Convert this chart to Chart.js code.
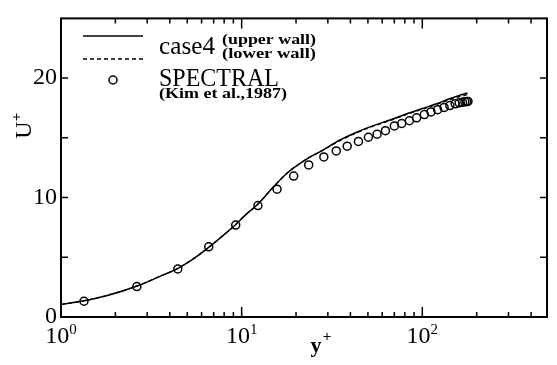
<!DOCTYPE html>
<html>
<head>
<meta charset="utf-8">
<script src="https://cdn.jsdelivr.net/npm/chart.js@4.4.1/dist/chart.umd.min.js"></script>
<style>
    html, body { margin: 0; padding: 0; background: #fff; }
    #wrap { width: 557px; height: 365px; position: relative; }
</style>
</head>
<body>
<div id="wrap"><canvas id="uplusChart"></canvas></div>
<script>
// case4 profiles (upper / lower wall)
var caseYPlus = [1, 1.34, 1.8, 2.64, 3.5, 4.41, 5.5, 6.59, 8, 9.28, 10.5, 12.2, 14.9, 18, 22.8, 28, 34.8, 43, 53, 65, 80, 100, 120, 140, 160, 178];
var caseUpper = [1.05, 1.36, 1.8, 2.6, 3.38, 4.05, 4.95, 5.85, 6.9, 7.75, 8.55, 9.4, 10.85, 12.1, 13.2, 13.95, 14.8, 15.45, 16.0, 16.45, 16.95, 17.45, 17.85, 18.25, 18.55, 18.75];
var caseLower = [1.05, 1.36, 1.8, 2.6, 3.38, 4.05, 4.95, 5.85, 6.9, 7.75, 8.55, 9.4, 10.85, 12.1, 13.2, 13.95, 14.75, 15.4, 15.95, 16.4, 16.9, 17.4, 17.8, 18.15, 18.45, 18.62];

// SPECTRAL (Kim et al., 1987)
var spectralYPlus = [1.34, 2.63, 4.43, 6.57, 9.27, 12.3, 15.7, 19.4, 23.5, 28.5, 33.4, 38.4, 44.3, 50.3, 56.2, 62.5, 70, 76.9, 84.8, 93, 102.6, 111.7, 121.5, 132, 142, 152, 160, 167, 172, 176, 179];
var spectralU = [1.32, 2.55, 4.02, 5.88, 7.7, 9.33, 10.7, 11.8, 12.73, 13.4, 13.9, 14.3, 14.7, 15.05, 15.3, 15.6, 16.0, 16.2, 16.43, 16.68, 16.95, 17.17, 17.36, 17.55, 17.7, 17.85, 17.93, 17.98, 18.02, 18.04, 18.05];

// axis ticks
var xDecades = [1, 10, 100];
var xDecadeExp = ['0', '1', '2'];
var yLabelled = [0, 10, 20];

var serif = "'Liberation Serif', 'DejaVu Serif', serif";

function pts(xs, ys) {
    return xs.map(function (x, i) { return {x: x, y: ys[i]}; });
}

// draw text squeezed/stretched to a given width (the scan's legend text is wide)
function wideText(ctx, txt, x, y, w) {
    var m = ctx.measureText(txt).width;
    ctx.save();
    ctx.translate(x, y);
    ctx.scale(w / m, 1);
    ctx.fillText(txt, 0, 0);
    ctx.restore();
}

var frameAndTicks = {
    id: 'frameAndTicks',
    afterDraw: function (chart) {
        var ctx = chart.ctx;
        var a = chart.chartArea;
        var xs = chart.scales.x, ys = chart.scales.y;
        ctx.save();
        ctx.strokeStyle = '#000';
        ctx.fillStyle = '#000';

        // frame
        ctx.lineWidth = 2;
        ctx.strokeRect(a.left, a.top, a.right - a.left, a.bottom - a.top);

        // x ticks (bottom and top, inward)
        ctx.lineWidth = 1.5;
        xs.ticks.forEach(function (t) {
            var v = t.value;
            var e = Math.floor(Math.log10(v) + 1e-9);
            var m = v / Math.pow(10, e);
            if (Math.abs(m - Math.round(m)) > 1e-6) return;
            var px = xs.getPixelForValue(v);
            if (px <= a.left + 1 || px >= a.right - 1) return;
            var len = Math.round(m) === 1 ? 10 : 5;
            ctx.beginPath();
            ctx.moveTo(px, a.bottom); ctx.lineTo(px, a.bottom - len);
            ctx.moveTo(px, a.top); ctx.lineTo(px, a.top + len);
            ctx.stroke();
        });

        // y ticks (left and right, inward)
        ys.ticks.forEach(function (t) {
            var py = ys.getPixelForValue(t.value);
            if (py <= a.top + 1 || py >= a.bottom - 1) return;
            ctx.beginPath();
            ctx.moveTo(a.left, py); ctx.lineTo(a.left + 7, py);
            ctx.moveTo(a.right, py); ctx.lineTo(a.right - 7, py);
            ctx.stroke();
        });

        // x tick labels 10^n
        ctx.textBaseline = 'alphabetic';
        xDecades.forEach(function (v, i) {
            var px = xs.getPixelForValue(v);
            ctx.font = '24px ' + serif;
            var w1 = ctx.measureText('10').width;
            ctx.font = '15px ' + serif;
            var w2 = ctx.measureText(xDecadeExp[i]).width;
            var x0 = px - (w1 + w2) / 2;
            ctx.textAlign = 'left';
            ctx.font = '24px ' + serif;
            ctx.fillText('10', x0, a.bottom + 26);
            ctx.font = '15px ' + serif;
            ctx.fillText(xDecadeExp[i], x0 + w1, a.bottom + 17);
        });

        // axis titles
        ctx.font = 'bold 22px ' + serif;
        ctx.textAlign = 'center';
        ctx.fillText('y', 316, 352);
        ctx.font = 'bold 15px ' + serif;
        ctx.fillText('+', 327, 341);

        ctx.save();
        ctx.translate(31, 127);
        ctx.rotate(-Math.PI / 2);
        ctx.font = '24px ' + serif;
        ctx.textAlign = 'center';
        ctx.fillText('U', -3, 0);
        ctx.font = 'bold 15px ' + serif;
        ctx.fillText('+', 10, -10);
        ctx.restore();

        // legend
        var up = chart.data.datasets[0], lo = chart.data.datasets[1], sp = chart.data.datasets[2];
        ctx.lineWidth = up.borderWidth;
        ctx.setLineDash([]);
        ctx.beginPath(); ctx.moveTo(83, 36); ctx.lineTo(143, 36); ctx.stroke();
        ctx.lineWidth = lo.borderWidth;
        ctx.setLineDash(lo.borderDash);
        ctx.beginPath(); ctx.moveTo(83, 59); ctx.lineTo(143, 59); ctx.stroke();
        ctx.setLineDash([]);
        ctx.lineWidth = sp.pointBorderWidth;
        ctx.beginPath(); ctx.arc(113, 80, sp.pointRadius, 0, Math.PI * 2); ctx.stroke();

        ctx.textAlign = 'left';
        ctx.font = '25px ' + serif;
        wideText(ctx, 'case4', 159, 54, 56);
        ctx.font = 'bold 14px ' + serif;
        wideText(ctx, '(upper wall)', 222, 44, 94);
        wideText(ctx, '(lower wall)', 222, 58, 94);
        ctx.font = '25px ' + serif;
        wideText(ctx, 'SPECTRAL', 159, 86, 120);
        ctx.font = 'bold 15px ' + serif;
        wideText(ctx, '(Kim et al.,1987)', 159, 98, 128);
        ctx.restore();
    }
};

var ctx = document.getElementById('uplusChart');
var chart = new Chart(ctx, {
    type: 'scatter',
    data: {
        datasets: [{
            label: 'case4 (upper wall)',
            data: pts(caseYPlus, caseUpper),
            showLine: true,
            borderColor: '#000',
            borderWidth: 1.5,
            pointRadius: 0,
            cubicInterpolationMode: 'monotone'
        }, {
            label: 'case4 (lower wall)',
            data: pts(caseYPlus, caseLower),
            showLine: true,
            borderColor: '#000',
            borderWidth: 1.3,
            borderDash: [4, 3],
            pointRadius: 0,
            cubicInterpolationMode: 'monotone'
        }, {
            label: 'SPECTRAL (Kim et al.,1987)',
            data: pts(spectralYPlus, spectralU),
            showLine: false,
            pointStyle: 'circle',
            pointRadius: 4,
            pointBorderWidth: 1.5,
            pointBorderColor: '#000',
            pointBackgroundColor: 'rgba(255,255,255,0)'
        }]
    },
    options: {
        responsive: true,
        maintainAspectRatio: false,
        animation: false,
        layout: { padding: { top: 9, right: 10, left: 0, bottom: 0 } },
        plugins: {
            legend: { display: false },
            tooltip: { enabled: false }
        },
        scales: {
            x: {
                type: 'logarithmic',
                min: 1,
                max: 490,
                grid: { display: false, drawTicks: false },
                border: { display: false },
                ticks: { display: false },
                afterFit: function (scale) { scale.height = 48; }
            },
            y: {
                type: 'linear',
                min: 0,
                max: 25,
                grid: { display: false, drawTicks: false },
                border: { display: false },
                ticks: {
                    stepSize: 2.5,
                    padding: 4,
                    color: '#000',
                    font: { family: serif, size: 24 },
                    callback: function (v) { return yLabelled.indexOf(v) >= 0 ? String(v) : ''; }
                },
                afterFit: function (scale) { scale.width = 61; }
            }
        }
    },
    plugins: [frameAndTicks]
});
</script>
</body>
</html>
